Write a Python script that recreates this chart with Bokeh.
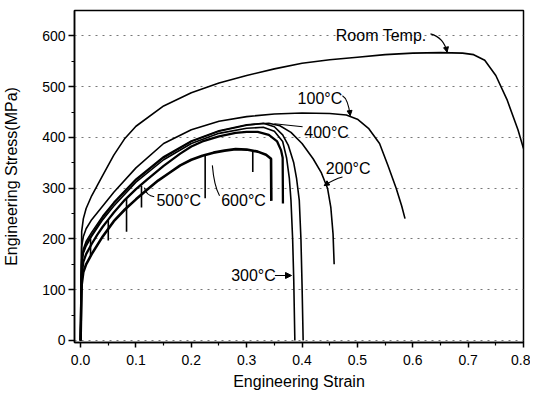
from bokeh.plotting import figure
from bokeh.models import Range1d, FixedTicker, Arrow, NormalHead, PrintfTickFormatter
from bokeh.embed import file_html
from bokeh.resources import INLINE
from bokeh.core.properties import value

# ---------------- data ----------------
rt_strain = [0, 0.001, 0.002, 0.005, 0.01, 0.02, 0.03, 0.04, 0.06, 0.08, 0.1, 0.15, 0.2, 0.25,
             0.3, 0.35, 0.4, 0.45, 0.5, 0.55, 0.6, 0.65, 0.69, 0.71, 0.73, 0.75, 0.77, 0.79, 0.8]
rt_stress = [0, 110, 215, 240, 260, 285, 305, 325, 365, 398, 422, 462, 488, 507,
             522, 535, 546, 553, 558, 563, 566, 567, 566, 563, 552, 522, 475, 415, 378]

t100_strain = [0, 0.001, 0.002, 0.005, 0.01, 0.02, 0.04, 0.06, 0.1, 0.15, 0.2, 0.25, 0.3, 0.35,
               0.4, 0.45, 0.48, 0.5, 0.52, 0.54, 0.555, 0.57, 0.58, 0.586]
t100_stress = [0, 100, 185, 205, 220, 238, 265, 292, 340, 388, 415, 432, 441, 446,
               448, 447, 444, 436, 418, 388, 345, 300, 265, 240]

t200_strain = [0, 0.001, 0.002, 0.005, 0.01, 0.02, 0.04, 0.06, 0.1, 0.15, 0.2, 0.25, 0.3, 0.34,
               0.36, 0.38, 0.4, 0.42, 0.435, 0.446, 0.452, 0.456, 0.458]
t200_stress = [0, 90, 160, 180, 195, 213, 245, 272, 318, 362, 393, 413, 425, 428,
               423, 410, 388, 358, 330, 300, 262, 210, 150]

t300_strain = [0, 0.001, 0.002, 0.005, 0.01, 0.02, 0.04, 0.06, 0.1, 0.15, 0.2, 0.25, 0.3, 0.33,
               0.35, 0.365, 0.372, 0.377, 0.38, 0.383, 0.385, 0.387]
t300_stress = [0, 80, 150, 172, 186, 205, 238, 265, 312, 356, 388, 408, 418, 420,
               412, 392, 360, 320, 276, 200, 120, 0]

t400_strain = [0, 0.001, 0.002, 0.005, 0.01, 0.02, 0.04, 0.06, 0.1, 0.15, 0.2, 0.25, 0.3, 0.33,
               0.35, 0.365, 0.375, 0.385, 0.39, 0.395, 0.398, 0.4, 0.402]
t400_stress = [0, 85, 155, 175, 190, 208, 242, 270, 316, 360, 392, 412, 424, 428,
               421, 405, 385, 350, 320, 276, 200, 110, 0]

t500_strain = [0, 0.001, 0.002, 0.005, 0.01, 0.02, 0.03, 0.04, 0.05, 0.06, 0.08, 0.1, 0.12, 0.15,
               0.18, 0.2, 0.22, 0.25, 0.28, 0.3, 0.32, 0.34, 0.355, 0.362, 0.365, 0.3655]
t500_stress = [0, 70, 130, 155, 170, 190, 208, 224, 238, 252, 277, 298, 317, 344,
               368, 382, 392, 402, 409, 411, 411, 405, 392, 375, 360, 270]

t600_strain = [0, 0.001, 0.002, 0.005, 0.01, 0.02, 0.04, 0.06, 0.08, 0.1, 0.12, 0.14, 0.16, 0.18,
               0.2, 0.22, 0.24, 0.26, 0.28, 0.3, 0.32, 0.335, 0.344, 0.3445]
t600_stress = [0, 60, 110, 135, 150, 170, 205, 235, 258, 278, 297, 315, 330, 345,
               356, 364, 370, 374, 377, 376, 372, 366, 358, 275]

# serration drops (strain, top stress, bottom stress)
spike_strain = [0.018, 0.05, 0.083, 0.11, 0.225, 0.311]
spike_top = [200, 238, 279, 305, 366, 375]
spike_bottom = [168, 197, 214, 262, 280, 332]

x_ticks = [0.0, 0.1, 0.2, 0.3, 0.4, 0.5, 0.6, 0.7, 0.8]
x_minor = [0.05, 0.15, 0.25, 0.35, 0.45, 0.55, 0.65, 0.75]
y_ticks = [0, 100, 200, 300, 400, 500, 600]
y_minor = [50, 150, 250, 350, 450, 550]

# curve labels
lab_text = ["Room Temp.", "100°C", "400°C", "200°C", "500°C", "600°C", "300°C"]
lab_x = [0.461, 0.392, 0.404, 0.443, 0.137, 0.254, 0.272]
lab_y = [600, 476, 410, 338, 276, 276, 128]

# curved leaders: start, control, tip
ld_x0 = [0.632, 0.473, 0.473, 0.133, 0.251]
ld_y0 = [604, 482, 322, 283, 285]
ld_cx = [0.656, 0.483, 0.458, 0.119, 0.241]
ld_cy = [597, 476, 318, 285, 305]
ld_x1 = [0.662, 0.487, 0.440, 0.115, 0.238]
ld_y1 = [568, 443, 305, 301, 345]
ld_head = [True, True, True, False, False]

FONT = "Liberation Sans"

p = figure(width=530, height=393, output_backend="svg", toolbar_location=None,
           x_range=Range1d(-0.011, 0.8), y_range=Range1d(-4, 650),
           min_border_left=73, min_border_right=7, min_border_top=10, min_border_bottom=51,
           background_fill_color="white", border_fill_color="white")

p.xgrid.visible = False
p.ygrid.ticker = FixedTicker(ticks=y_ticks)
p.ygrid.grid_line_color = "#777777"
p.ygrid.grid_line_dash = "2 5"
p.ygrid.grid_line_width = 1

p.outline_line_color = "black"
p.outline_line_width = 1.5

p.xaxis.ticker = FixedTicker(ticks=x_ticks, minor_ticks=x_minor)
p.xaxis.formatter = PrintfTickFormatter(format="%.1f")
p.yaxis.ticker = FixedTicker(ticks=y_ticks, minor_ticks=y_minor)
for ax in (p.xaxis, p.yaxis):
    ax.axis_line_color = "black"
    ax.axis_line_width = 1.5
    ax.major_tick_in = 0
    ax.major_tick_out = 5
    ax.minor_tick_in = 0
    ax.minor_tick_out = 3
    ax.major_tick_line_width = 1.5
    ax.minor_tick_line_width = 1.2
    ax.major_label_text_font = FONT
    ax.major_label_text_font_size = "14px"
    ax.major_label_text_color = "black"
    ax.axis_label_text_font = FONT
    ax.axis_label_text_font_size = "16px"
    ax.axis_label_text_font_style = "normal"
    ax.axis_label_text_color = "black"
p.xaxis.axis_label = "Engineering Strain"
p.yaxis.axis_label = "Engineering Stress(MPa)"
p.xaxis.major_label_standoff = 7
p.xaxis.axis_label_standoff = 5
p.yaxis.major_tick_out = 6
p.yaxis.major_label_standoff = 3
p.yaxis.axis_label_standoff = 19

LW = 1.6
p.line(rt_strain, rt_stress, line_color="black", line_width=LW)
p.line(t100_strain, t100_stress, line_color="black", line_width=LW)
p.line(t200_strain, t200_stress, line_color="black", line_width=LW)
p.line(t300_strain, t300_stress, line_color="black", line_width=LW)
p.line(t400_strain, t400_stress, line_color="black", line_width=LW)
p.line(t500_strain, t500_stress, line_color="black", line_width=2.3)
p.line(t600_strain, t600_stress, line_color="black", line_width=2.6)
p.segment(x0=spike_strain, y0=spike_top, x1=spike_strain, y1=spike_bottom,
          line_color="black", line_width=1.6)

p.text(x=lab_x, y=lab_y, text=lab_text, text_font=value(FONT), text_font_size="16px",
       text_color="black", text_align="left", text_baseline="middle")

p.quadratic(x0=ld_x0, y0=ld_y0, x1=ld_x1, y1=ld_y1, cx=ld_cx, cy=ld_cy,
            line_color="black", line_width=1.1)
for i in range(len(ld_x0)):
    if ld_head[i]:
        p.add_layout(Arrow(end=NormalHead(size=5, fill_color="black", line_color="black", line_width=1),
                           x_start=ld_cx[i], y_start=ld_cy[i], x_end=ld_x1[i], y_end=ld_y1[i],
                           line_alpha=0))
# 400°C straight leader and 300°C arrow
p.segment(x0=[0.401], y0=[421], x1=[0.35], y1=[427], line_color="black", line_width=1.1)
p.add_layout(Arrow(end=NormalHead(size=6, fill_color="black", line_color="black", line_width=1),
                   x_start=0.351, y_start=128, x_end=0.381, y_end=128,
                   line_color="black", line_width=1.2))

open("out.html", "w").write(file_html(p, INLINE))
